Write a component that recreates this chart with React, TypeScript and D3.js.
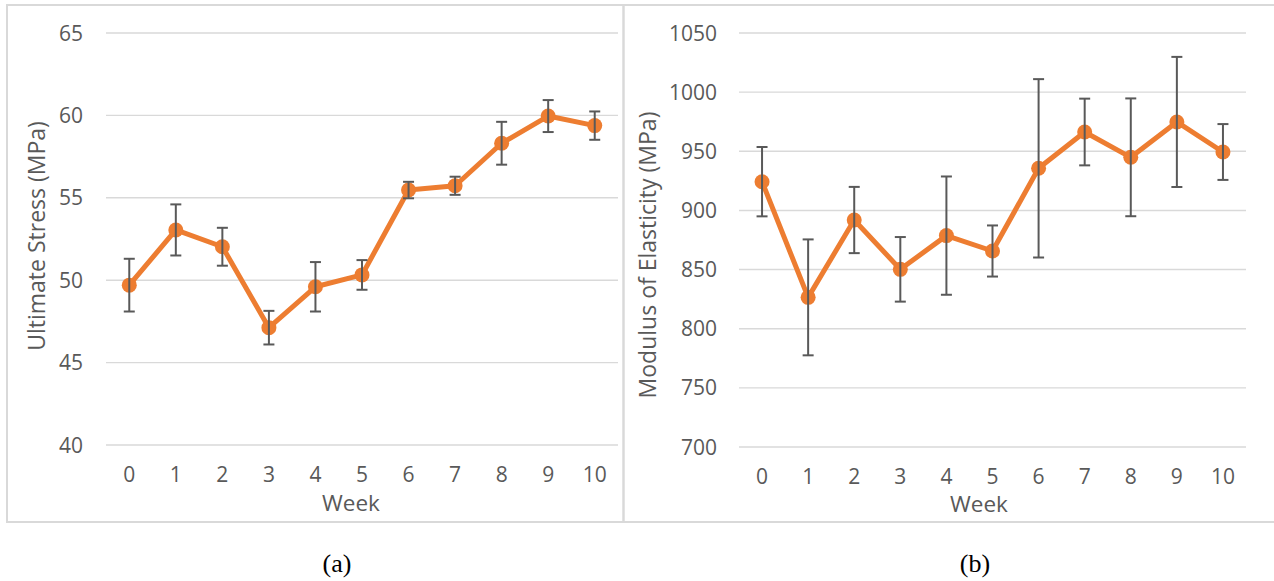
import React from "react";
import * as d3 from "d3";

const weeks = ["0", "1", "2", "3", "4", "5", "6", "7", "8", "9", "10"];

const stressMean = [49.7, 53.05, 52.03, 47.12, 49.6, 50.32, 55.47, 55.73, 58.31, 59.96, 59.38];
const stressErr = [1.6, 1.55, 1.15, 1.02, 1.5, 0.9, 0.5, 0.55, 1.3, 0.97, 0.86];
const stressTicks = [40, 45, 50, 55, 60, 65];

const modulusMean = [924.3, 826.5, 891.9, 850.2, 878.7, 865.7, 935.6, 966.3, 944.9, 974.8, 949.4];
const modulusErr = [29.3, 49, 28, 27.3, 50, 21.6, 75.4, 28.2, 49.8, 55, 23.6];
const modulusTicks = [700, 750, 800, 850, 900, 950, 1000, 1050];

const ORANGE = "#ED7D31";
const GRAY = "#595959";
const GRID = "#D9D9D9";
const FONT = "'Open Sans', sans-serif";

type PanelProps = {
  mean: number[];
  err: number[];
  ticks: number[];
  x0: number;
  x1: number;
  yTop: number;
  yBot: number;
  labelX: number;
  yTitle: string;
  yTitleX: number;
  yTitleY: number;
  tickLabelY: number;
  weekX: number;
  weekY: number;
};

function Panel(p: PanelProps) {
  const x = d3.scaleBand<string>().domain(weeks).range([p.x0, p.x1]);
  const y = d3
    .scaleLinear()
    .domain([p.ticks[0], p.ticks[p.ticks.length - 1]])
    .range([p.yBot, p.yTop]);
  const cx = (i: number) => (x(weeks[i]) as number) + x.bandwidth() / 2;
  const line = d3
    .line<number>()
    .x((_, i) => cx(i))
    .y((d) => y(d));
  const cap = 5.5;
  return (
    <g>
      {p.ticks.map((t) => (
        <g key={t}>
          <line x1={p.x0} x2={p.x1} y1={y(t)} y2={y(t)} stroke={GRID} strokeWidth={1.4} />
          <text
            x={p.labelX}
            y={y(t)}
            dy="0.36em"
            textAnchor="end"
            fontFamily={FONT}
            fontSize={21}
            fill={GRAY}
          >
            {t}
          </text>
        </g>
      ))}
      {weeks.map((w, i) => (
        <text
          key={w}
          x={cx(i)}
          y={p.tickLabelY}
          textAnchor="middle"
          fontFamily={FONT}
          fontSize={21}
          fill={GRAY}
        >
          {w}
        </text>
      ))}
      <text
        x={p.weekX}
        y={p.weekY}
        textAnchor="middle"
        fontFamily={FONT}
        fontSize={22.5}
        fill={GRAY}
      >
        Week
      </text>
      <text
        transform={`translate(${p.yTitleX},${p.yTitleY}) rotate(-90)`}
        textAnchor="middle"
        dy="0.35em"
        fontFamily={FONT}
        fontSize={23}
        fill={GRAY}
      >
        {p.yTitle}
      </text>
      <path d={line(p.mean) || ""} fill="none" stroke={ORANGE} strokeWidth={5} strokeLinejoin="round" />
      {p.mean.map((m, i) => (
        <circle key={i} cx={cx(i)} cy={y(m)} r={7.5} fill={ORANGE} />
      ))}
      {p.mean.map((m, i) => (
        <g key={i} stroke={GRAY} strokeWidth={2}>
          <line x1={cx(i)} x2={cx(i)} y1={y(m + p.err[i])} y2={y(m - p.err[i])} />
          <line x1={cx(i) - cap} x2={cx(i) + cap} y1={y(m + p.err[i])} y2={y(m + p.err[i])} />
          <line x1={cx(i) - cap} x2={cx(i) + cap} y1={y(m - p.err[i])} y2={y(m - p.err[i])} />
        </g>
      ))}
    </g>
  );
}

export default function App() {
  return (
    <svg
      width={1274}
      height={581}
      style={{ position: "absolute", left: 0, top: 0, background: "#fff" }}
    >
      <rect x={0} y={0} width={1274} height={581} fill="#fff" />
      <rect x={7} y={5} width={616.5} height={517} fill="none" stroke={GRID} strokeWidth={2} />
      <rect x={623.5} y={5} width={700} height={517} fill="none" stroke={GRID} strokeWidth={2} />
      <Panel
        mean={stressMean}
        err={stressErr}
        ticks={stressTicks}
        x0={106}
        x1={618}
        yTop={33}
        yBot={445}
        labelX={83}
        yTitle="Ultimate Stress (MPa)"
        yTitleX={37}
        yTitleY={236}
        tickLabelY={482}
        weekX={351}
        weekY={511}
      />
      <Panel
        mean={modulusMean}
        err={modulusErr}
        ticks={modulusTicks}
        x0={739}
        x1={1246}
        yTop={33}
        yBot={447}
        labelX={717}
        yTitle="Modulus of Elasticity (MPa)"
        yTitleX={648}
        yTitleY={255}
        tickLabelY={484}
        weekX={979}
        weekY={512}
      />
      <text x={337} y={572} textAnchor="middle" fontFamily="'Liberation Serif', 'Times New Roman', serif" fontSize={26} fill="#000">
        (a)
      </text>
      <text x={975} y={572} textAnchor="middle" fontFamily="'Liberation Serif', 'Times New Roman', serif" fontSize={26} fill="#000">
        (b)
      </text>
    </svg>
  );
}
